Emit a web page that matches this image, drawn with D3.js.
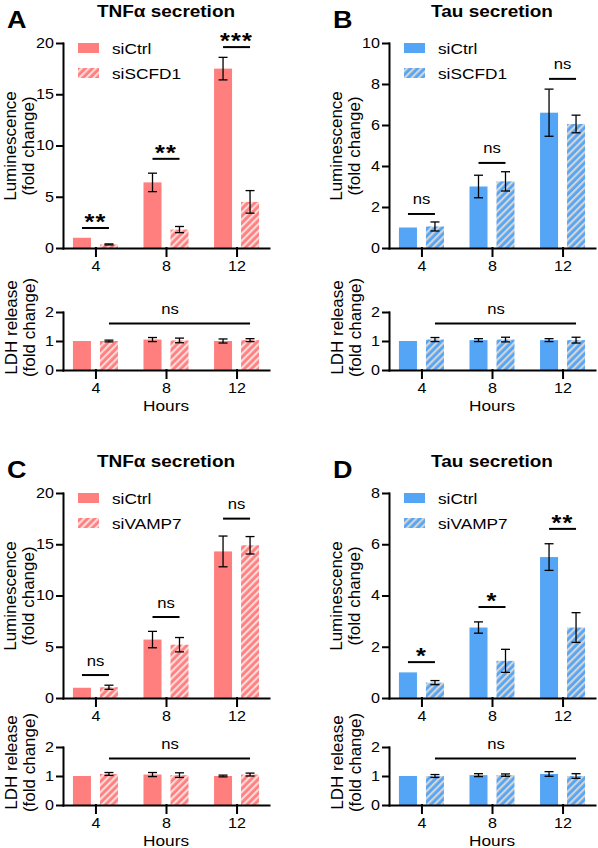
<!DOCTYPE html>
<html>
<head>
<meta charset="utf-8">
<script src="https://cdn.jsdelivr.net/npm/d3@7"></script>
<style>
  body { margin: 0; background: #fff; }
  svg { display: block; }
  .axis .domain, .axis .tick line { stroke: #000; stroke-width: 2px; stroke-linecap: square; }
  .axis text { fill: #000; }
</style>
</head>
<body>
<div id="chart"></div>
<script>
// categories
const hours = ["4", "8", "12"];

// A - TNFa secretion, siCtrl vs siSCFD1
const tnfCtrlA = [1.0, 6.4, 17.5];
const tnfCtrlASd = [0, 0.9, 1.1];
const tnfScfd1 = [0.35, 1.8, 4.5];
const tnfScfd1Sd = [0.05, 0.3, 1.1];
const ldhCtrlA = [1.0, 1.05, 1.0];
const ldhCtrlASd = [0, 0.07, 0.07];
const ldhScfd1A = [1.0, 1.02, 1.03];
const ldhScfd1ASd = [0.03, 0.08, 0.05];
const sigA = ["**", "**", "***"];
const sigLevelA = [1.95, 8.7, 19.6];

// B - Tau secretion, siCtrl vs siSCFD1
const tauCtrlB = [1.0, 3.0, 6.6];
const tauCtrlBSd = [0, 0.55, 1.15];
const tauScfd1 = [1.05, 3.25, 6.05];
const tauScfd1Sd = [0.22, 0.47, 0.43];
const ldhCtrlB = [1.0, 1.03, 1.03];
const ldhCtrlBSd = [0, 0.05, 0.05];
const ldhScfd1B = [1.05, 1.05, 1.03];
const ldhScfd1BSd = [0.07, 0.08, 0.1];
const sigB = ["ns", "ns", "ns"];
const sigLevelB = [1.66, 4.15, 8.25];

// C - TNFa secretion, siCtrl vs siVAMP7
const tnfCtrlC = [1.0, 5.7, 14.3];
const tnfCtrlCSd = [0, 0.8, 1.5];
const tnfVamp7 = [1.05, 5.2, 14.9];
const tnfVamp7Sd = [0.2, 0.7, 0.85];
const ldhCtrlC = [1.0, 1.05, 1.0];
const ldhCtrlCSd = [0, 0.07, 0.03];
const ldhVamp7C = [1.07, 1.03, 1.05];
const ldhVamp7CSd = [0.05, 0.08, 0.05];
const sigC = ["ns", "ns", "ns"];
const sigLevelC = [2.24, 7.9, 17.5];

// D - Tau secretion, siCtrl vs siVAMP7
const tauCtrlD = [1.0, 2.75, 5.5];
const tauCtrlDSd = [0, 0.22, 0.52];
const tauVamp7 = [0.6, 1.45, 2.75];
const tauVamp7Sd = [0.08, 0.45, 0.58];
const ldhCtrlD = [1.0, 1.03, 1.07];
const ldhCtrlDSd = [0, 0.05, 0.08];
const ldhVamp7D = [1.0, 1.03, 1.0];
const ldhVamp7DSd = [0.05, 0.04, 0.08];
const sigD = ["*", "*", "**"];
const sigLevelD = [1.4, 3.55, 6.6];

// LDH comparison across all time points
const ldhSig = "ns";
const ldhSigLevel = 1.6;

// tick labels
const tnfTicks = [0, 5, 10, 15, 20];
const tauTicksB = [0, 2, 4, 6, 8, 10];
const tauTicksD = [0, 2, 4, 6, 8];
const ldhTicks = [0, 1, 2];

const width = 598;
const height = 848;
const plotW = 206;
const SX = 1.15;   // horizontal text stretch of the original figure
const FONT = "'Liberation Sans', Arial, sans-serif";

const pink = "#FF7F7F", pinkStripe = "#FFDADA";
const blue = "#54A5F6", blueStripe = "#D4D4D4";

const svg = d3.select("#chart").append("svg")
  .attr("width", width)
  .attr("height", height)
  .style("font-family", FONT);

// hatch patterns
const defs = svg.append("defs");
[["hatch-pink", pink, pinkStripe], ["hatch-blue", blue, blueStripe]].forEach(([id, c, s]) => {
  const pat = defs.append("pattern")
    .attr("id", id)
    .attr("patternUnits", "userSpaceOnUse")
    .attr("width", 5).attr("height", 5)
    .attr("patternTransform", "rotate(45)");
  pat.append("rect").attr("width", 5).attr("height", 5).attr("fill", c);
  pat.append("rect").attr("width", 2.2).attr("height", 5).attr("fill", s);
});

// widen horizontal texts like the source figure
function stretch(sel) {
  sel.each(function() {
    const t = d3.select(this);
    const x = +t.attr("x") || 0, y = +t.attr("y") || 0;
    t.attr("x", null).attr("y", null)
      .attr("transform", `translate(${x},${y}) scale(${SX},1)`);
  });
}

function drawBars(g, x, sub, y, vals, sds, fills) {
  const rows = [];
  hours.forEach((h, i) => {
    rows.push({ h, key: "ctrl", v: vals[0][i], sd: sds[0][i], fill: fills[0] });
    rows.push({ h, key: "kd", v: vals[1][i], sd: sds[1][i], fill: fills[1] });
  });

  g.selectAll(null).data(rows).enter().append("rect")
    .attr("x", d => x(d.h) + sub(d.key))
    .attr("width", sub.bandwidth())
    .attr("y", d => y(d.v))
    .attr("height", d => y(0) - y(d.v))
    .attr("fill", d => d.fill);

  const err = g.selectAll(null).data(rows.filter(d => d.sd > 0)).enter().append("g")
    .attr("transform", d => `translate(${x(d.h) + sub(d.key) + sub.bandwidth() / 2},0)`)
    .attr("stroke", "#000").attr("stroke-width", 1.3);
  err.append("line").attr("y1", d => y(d.v - d.sd)).attr("y2", d => y(d.v + d.sd));
  err.append("line").attr("x1", -4.5).attr("x2", 4.5)
    .attr("y1", d => y(d.v + d.sd)).attr("y2", d => y(d.v + d.sd));
  err.append("line").attr("x1", -4.5).attr("x2", 4.5)
    .attr("y1", d => y(d.v - d.sd)).attr("y2", d => y(d.v - d.sd));
}

function drawAxes(g, x, y, ticks, left) {
  g.append("g").attr("class", "axis")
    .attr("transform", `translate(0,${y(0)})`)
    .call(d3.axisBottom(x).tickSize(8).tickSizeOuter(0).tickPadding(5))
    .call(a => a.selectAll("text").style("font-size", "14px"))
    .call(a => stretch(a.selectAll("text")));
  g.append("g").attr("class", "axis")
    .attr("transform", `translate(${left},0)`)
    .call(d3.axisLeft(y).tickValues(ticks).tickFormat(d3.format("d"))
      .tickSize(6).tickSizeOuter(0).tickPadding(3))
    .call(a => a.selectAll("text").style("font-size", "14px"))
    .call(a => stretch(a.selectAll("text")));
}

function yLabel(g, lines, xBase, yc) {
  lines.forEach((t, i) => {
    g.append("text")
      .attr("transform", `translate(${xBase + i * 18},${yc}) rotate(-90)`)
      .attr("text-anchor", "middle")
      .style("font-size", "17px")
      .text(t);
  });
}

function drawPanel(p) {
  const g = svg.append("g");
  const left = p.left, top = p.top;
  const x = d3.scalePoint().domain(hours).range([left, left + plotW]).padding(0.46);
  const sub = d3.scaleBand().domain(["ctrl", "kd"]).range([-22.5, 22.5]).paddingInner(1 / 3);
  const fills = [p.color, `url(#${p.hatch})`];

  // upper chart: secretion
  const y = d3.scaleLinear().domain([0, p.yMax]).range([top + 248, top + 43]);
  drawBars(g, x, sub, y, p.vals, p.sds, fills);
  drawAxes(g, x, y, p.ticks, left);

  // significance brackets
  hours.forEach((h, i) => {
    const ly = y(p.sigLevel[i]);
    g.append("line")
      .attr("x1", x(h) + sub("ctrl") + sub.bandwidth() / 2)
      .attr("x2", x(h) + sub("kd") + sub.bandwidth() / 2)
      .attr("y1", ly).attr("y2", ly)
      .attr("stroke", "#000").attr("stroke-width", 2);
    const star = p.sig[i] !== "ns";
    g.append("text")
      .attr("x", x(h))
      .attr("y", star ? ly + 1 : ly - 9.5)
      .attr("text-anchor", "middle")
      .style("font-size", star ? "22px" : "14.5px")
      .style("font-weight", star ? "bold" : "normal")
      .style("letter-spacing", star ? "1px" : null)
      .text(p.sig[i])
      .call(stretch);
  });

  // legend
  p.legend.forEach((name, i) => {
    g.append("rect")
      .attr("x", left + 15).attr("y", top + 43 + i * 25)
      .attr("width", 21).attr("height", 10)
      .attr("fill", fills[i]);
    g.append("text")
      .attr("x", left + 49).attr("y", top + 54 + i * 25)
      .style("font-size", "15px")
      .text(name)
      .call(stretch);
  });

  yLabel(g, ["Luminescence", "(fold change)"], left - 47, top + 146);

  // title and panel letter
  g.append("text")
    .attr("x", left + plotW / 2).attr("y", top + 17)
    .attr("text-anchor", "middle")
    .style("font-size", "16.5px").style("font-weight", "bold")
    .text(p.title)
    .call(stretch);
  g.append("text")
    .attr("x", left - 56).attr("y", top + 28)
    .style("font-size", "23.5px").style("font-weight", "bold")
    .text(p.letter)
    .call(stretch);

  // lower chart: LDH release
  const y2 = d3.scaleLinear().domain([0, 2]).range([p.ldhZero, p.ldhZero - 58]);
  drawBars(g, x, sub, y2, p.ldh, p.ldhSd, fills);
  drawAxes(g, x, y2, ldhTicks, left);

  const x1 = x(hours[0]) + sub("kd") + sub.bandwidth() / 2;
  const x2 = x(hours[2]) + sub("kd") + sub.bandwidth() / 2;
  g.append("line")
    .attr("x1", x1).attr("x2", x2)
    .attr("y1", y2(ldhSigLevel)).attr("y2", y2(ldhSigLevel))
    .attr("stroke", "#000").attr("stroke-width", 2);
  g.append("text")
    .attr("x", x(hours[1]) + 4).attr("y", y2(ldhSigLevel) - 9.5)
    .attr("text-anchor", "middle")
    .style("font-size", "14.5px")
    .text(ldhSig)
    .call(stretch);

  yLabel(g, ["LDH release", "(fold change)"], left - 46, p.ldhZero - 42.5);

  g.append("text")
    .attr("x", x(hours[1])).attr("y", p.ldhZero + 40.5)
    .attr("text-anchor", "middle")
    .style("font-size", "15px")
    .text("Hours")
    .call(stretch);
}

const panels = [
  { letter: "A", title: "TNFα secretion", left: 63, top: 0, ldhZero: 370,
    yMax: 20, ticks: tnfTicks, color: pink, hatch: "hatch-pink",
    legend: ["siCtrl", "siSCFD1"],
    vals: [tnfCtrlA, tnfScfd1], sds: [tnfCtrlASd, tnfScfd1Sd],
    ldh: [ldhCtrlA, ldhScfd1A], ldhSd: [ldhCtrlASd, ldhScfd1ASd],
    sig: sigA, sigLevel: sigLevelA },
  { letter: "B", title: "Tau secretion", left: 389, top: 0, ldhZero: 370,
    yMax: 10, ticks: tauTicksB, color: blue, hatch: "hatch-blue",
    legend: ["siCtrl", "siSCFD1"],
    vals: [tauCtrlB, tauScfd1], sds: [tauCtrlBSd, tauScfd1Sd],
    ldh: [ldhCtrlB, ldhScfd1B], ldhSd: [ldhCtrlBSd, ldhScfd1BSd],
    sig: sigB, sigLevel: sigLevelB },
  { letter: "C", title: "TNFα secretion", left: 63, top: 450, ldhZero: 805,
    yMax: 20, ticks: tnfTicks, color: pink, hatch: "hatch-pink",
    legend: ["siCtrl", "siVAMP7"],
    vals: [tnfCtrlC, tnfVamp7], sds: [tnfCtrlCSd, tnfVamp7Sd],
    ldh: [ldhCtrlC, ldhVamp7C], ldhSd: [ldhCtrlCSd, ldhVamp7CSd],
    sig: sigC, sigLevel: sigLevelC },
  { letter: "D", title: "Tau secretion", left: 389, top: 450, ldhZero: 805,
    yMax: 8, ticks: tauTicksD, color: blue, hatch: "hatch-blue",
    legend: ["siCtrl", "siVAMP7"],
    vals: [tauCtrlD, tauVamp7], sds: [tauCtrlDSd, tauVamp7Sd],
    ldh: [ldhCtrlD, ldhVamp7D], ldhSd: [ldhCtrlDSd, ldhVamp7DSd],
    sig: sigD, sigLevel: sigLevelD }
];

panels.forEach(drawPanel);
</script>
</body>
</html>
